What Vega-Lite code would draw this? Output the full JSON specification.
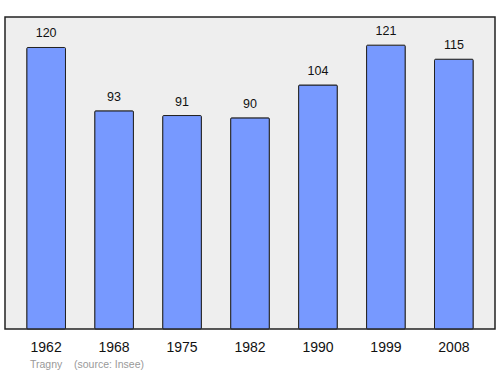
{
  "$schema": "https://vega.github.io/schema/vega-lite/v6.json",
  "width": 490,
  "height": 312,
  "autosize": {"type": "none"},
  "padding": {"left": 5, "top": 17, "right": 5, "bottom": 45},
  "background": "white",
  "config": {
    "view": {"fill": "#eeeeee", "stroke": "#222222", "strokeWidth": 1.5},
    "font": "Liberation Sans"
  },
  "title": {
    "text": "Tragny\u00a0\u00a0\u00a0\u00a0(source: Insee)",
    "orient": "bottom",
    "anchor": "start",
    "dx": 25,
    "offset": 6,
    "fontSize": 10.5,
    "fontWeight": "normal",
    "color": "#999999",
    "font": "Liberation Sans"
  },
  "data": {
    "values": [
      {"year": "1962", "pop": 120},
      {"year": "1968", "pop": 93},
      {"year": "1975", "pop": 91},
      {"year": "1982", "pop": 90},
      {"year": "1990", "pop": 104},
      {"year": "1999", "pop": 121},
      {"year": "2008", "pop": 115}
    ]
  },
  "encoding": {
    "x": {
      "field": "year",
      "type": "ordinal",
      "sort": null,
      "scale": {"paddingInner": 0.43, "paddingOuter": 0.32},
      "axis": {
        "title": null,
        "domain": false,
        "ticks": false,
        "labelAngle": 0,
        "labelFontSize": 14,
        "labelColor": "#111111",
        "labelPadding": 11
      }
    },
    "y": {
      "field": "pop",
      "type": "quantitative",
      "scale": {"domain": [0, 133], "nice": false},
      "axis": null
    }
  },
  "layer": [
    {
      "mark": {"type": "bar", "fill": "#7799ff", "stroke": "#222222", "strokeWidth": 1, "cornerRadius": 1}
    },
    {
      "mark": {"type": "text", "dy": -14, "fontSize": 12.5, "color": "#111111"},
      "encoding": {"text": {"field": "pop", "type": "quantitative"}}
    }
  ]
}
